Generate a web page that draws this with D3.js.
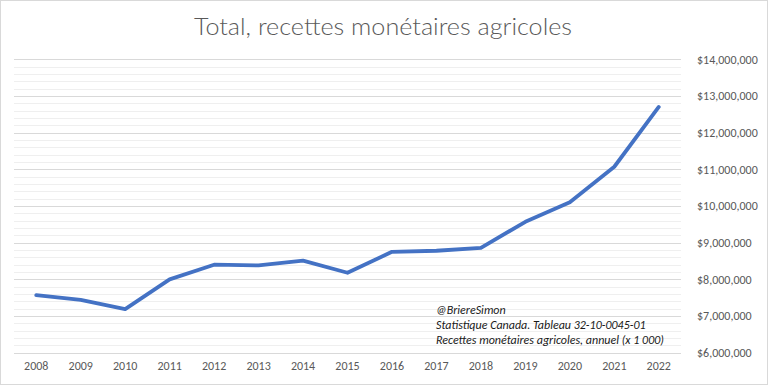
<!DOCTYPE html>
<html><head><meta charset="utf-8">
<script src="https://cdn.jsdelivr.net/npm/d3@7"></script>
<style>body{margin:0;background:#fff}svg{display:block}</style>
</head><body>
<svg id="c" width="768" height="385"></svg>
<script>
const years = ["2008","2009","2010","2011","2012","2013","2014","2015","2016","2017","2018","2019","2020","2021","2022"];
const values = [7570000,7440000,7190000,8000000,8400000,8380000,8510000,8180000,8750000,8780000,8860000,9570000,10100000,11070000,12700000];
const yTicks = [6000000,7000000,8000000,9000000,10000000,11000000,12000000,13000000,14000000];
const title = "Total, recettes monétaires agricoles";
const notes = ["@BriereSimon","Statistique Canada. Tableau 32-10-0045-01","Recettes monétaires agricoles, annuel (x 1 000)"];

const svg = d3.select("#c");
const W=768,H=385;
svg.append("rect").attr("x",0.5).attr("y",0.5).attr("width",W-1).attr("height",H-1)
  .attr("fill","#fff").attr("stroke","#d9d9d9");

const L=14,R=681,T=59.3,B=352.7;
const x = d3.scaleBand().domain(years).range([L,R]);
const y = d3.scaleLinear().domain([6000000,14000000]).range([B,T]);

const minor = d3.range(6000000,14000001,200000).filter(v=>v%1000000!==0);
svg.append("g").selectAll("line").data(minor).join("line")
  .attr("x1",L).attr("x2",R).attr("y1",d=>Math.round(y(d))+0.5).attr("y2",d=>Math.round(y(d))+0.5)
  .attr("stroke","#efefef").attr("stroke-width",1);
svg.append("g").selectAll("line").data(yTicks).join("line")
  .attr("x1",L).attr("x2",R).attr("y1",d=>Math.round(y(d))+0.5).attr("y2",d=>Math.round(y(d))+0.5)
  .attr("stroke","#d9d9d9").attr("stroke-width",1);

const FONT = "Carlito, 'Liberation Sans', sans-serif";
const fmt = d=>"$"+d3.format(",")(d);
const yAxis = d3.axisRight(y).tickValues(yTicks).tickFormat(fmt).tickSize(0).tickPadding(0);
const gy = svg.append("g").attr("transform",`translate(697,0)`).call(yAxis);
gy.select(".domain").remove();
gy.selectAll("text").attr("fill","#595959").attr("font-family",FONT).attr("font-size","12px");

const xAxis = d3.axisBottom(x).tickSize(0).tickPadding(0);
const gx = svg.append("g").attr("transform",`translate(0,361)`).call(xAxis);
gx.select(".domain").remove();
gx.selectAll("text").attr("fill","#595959").attr("font-family",FONT).attr("font-size","12px");

const line = d3.line().x((d,i)=>x(years[i])+x.bandwidth()/2).y(d=>y(d));
svg.append("path").datum(values).attr("d",line).attr("fill","none")
  .attr("stroke","#4472C4").attr("stroke-width",3.8).attr("stroke-linejoin","round").attr("stroke-linecap","round");

svg.append("text").attr("x",383).attr("y",35).attr("text-anchor","middle")
  .attr("font-family","Lato, 'Open Sans', sans-serif").attr("font-weight",300).attr("font-size","23px")
  .attr("fill","#595959").attr("textLength",378).attr("lengthAdjust","spacingAndGlyphs").text(title);

svg.append("g").selectAll("text").data(notes).join("text")
  .attr("x",436).attr("y",(d,i)=>314+i*15)
  .attr("font-family",FONT).attr("font-style","italic").attr("font-size","12px")
  .attr("fill","#1a1a1a").text(d=>d);
</script>
</body></html>
